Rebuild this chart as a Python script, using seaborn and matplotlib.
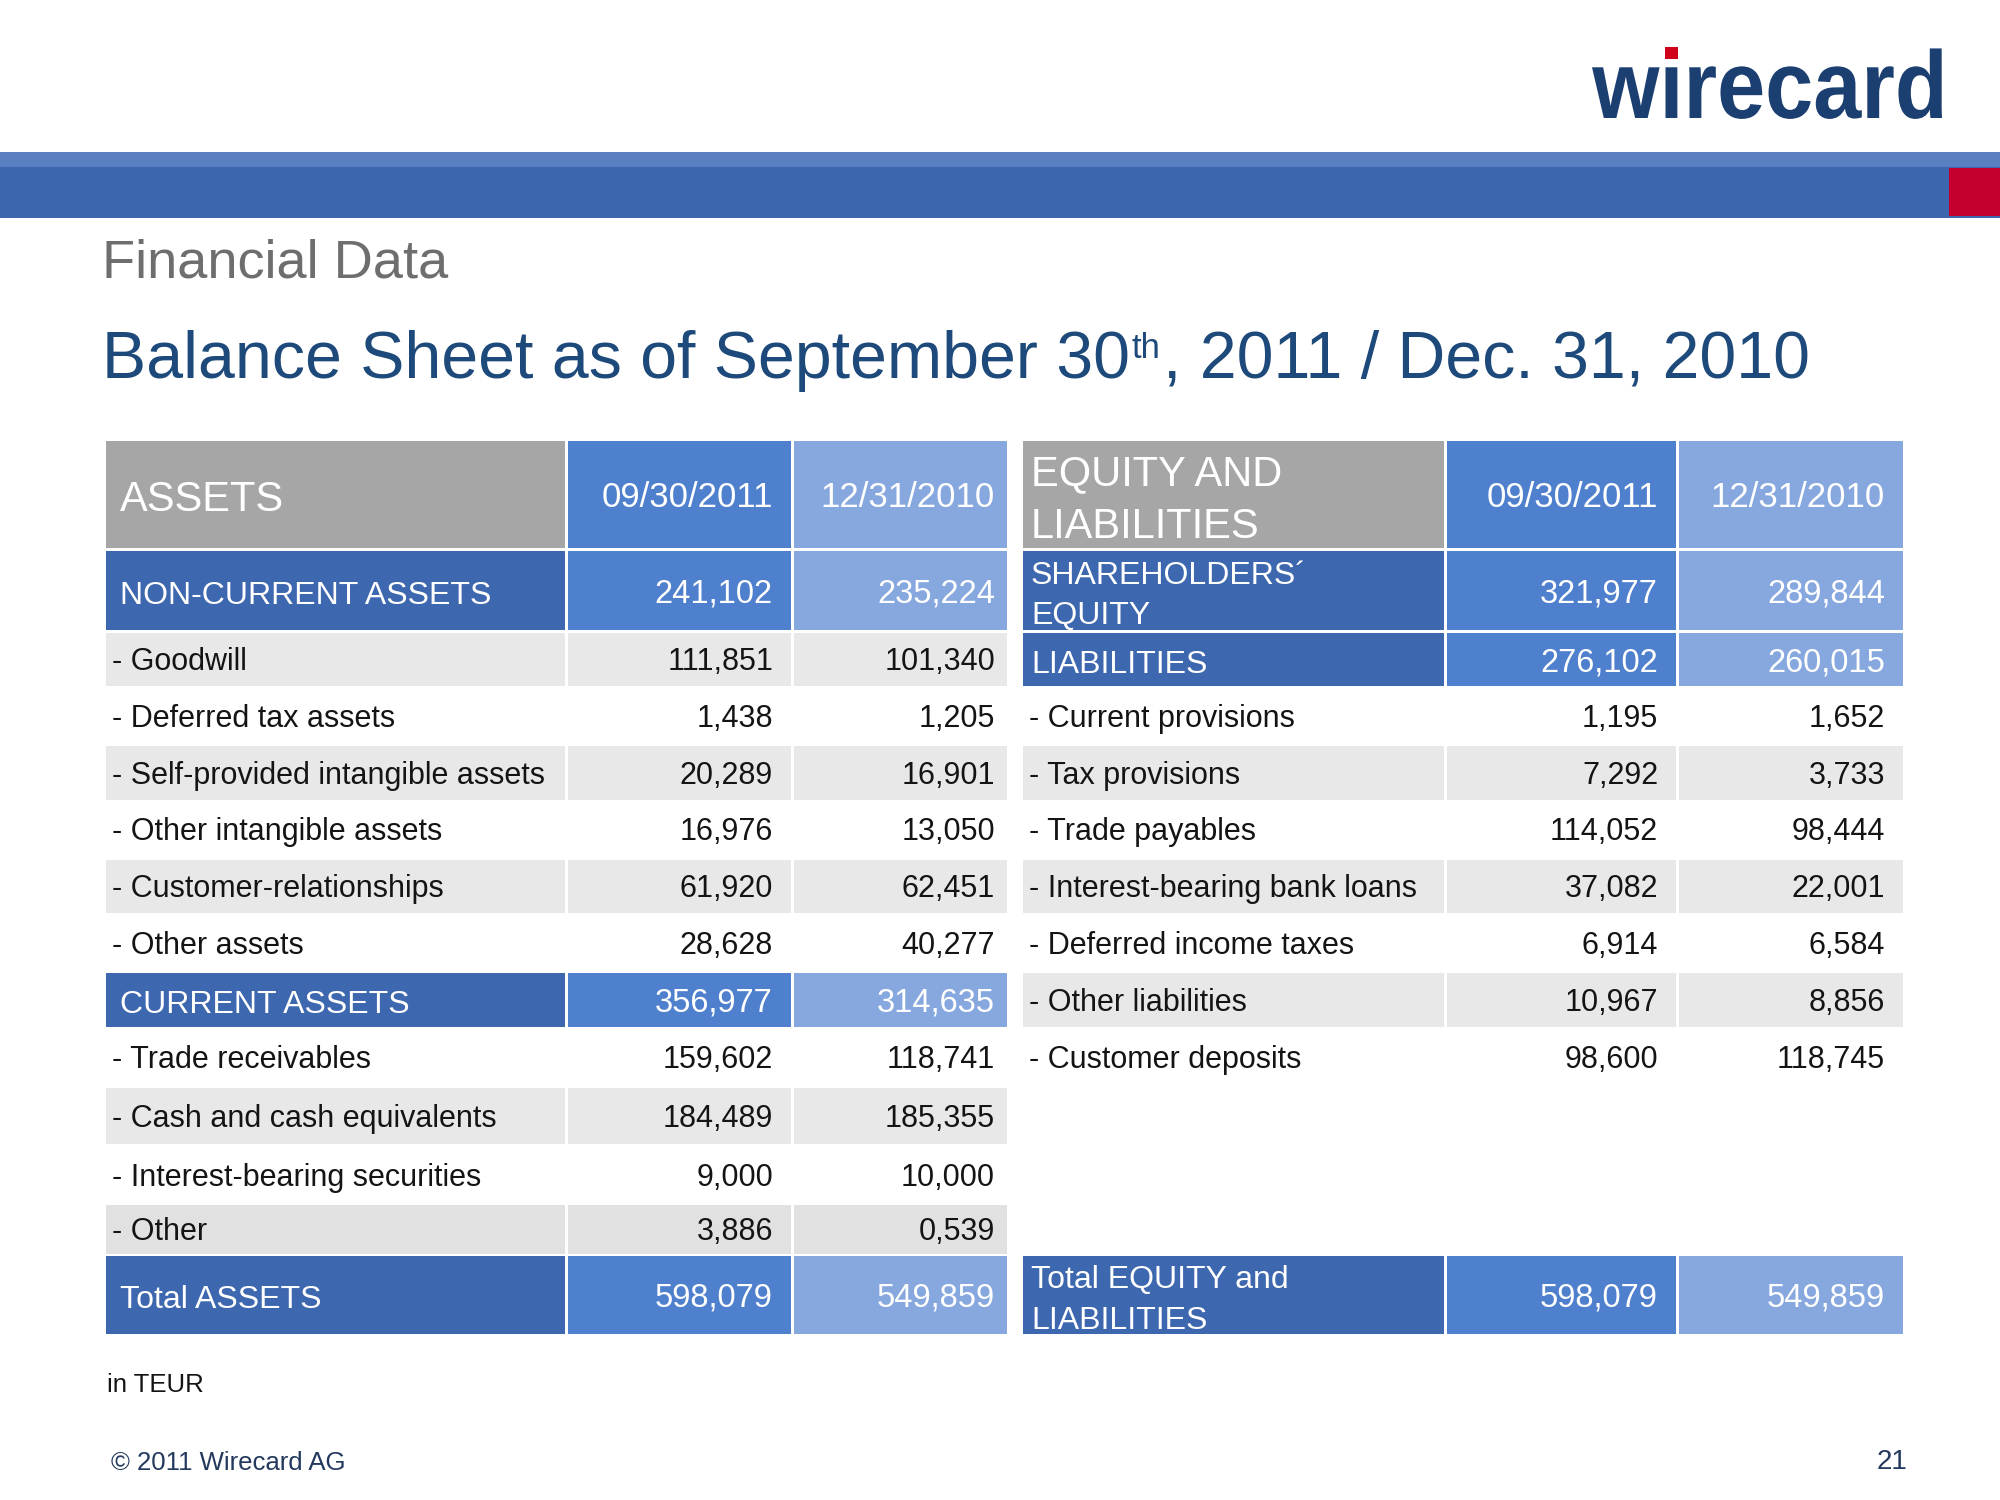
import matplotlib.pyplot as plt
from matplotlib.patches import Rectangle, PathPatch
from matplotlib.textpath import TextPath
from matplotlib.font_manager import FontProperties
from matplotlib.transforms import Affine2D
import seaborn as sns

# --- data (TEUR) ---
col_headers = ["09/30/2011", "12/31/2010"]

asset_labels = ["NON-CURRENT ASSETS", "- Goodwill", "- Deferred tax assets",
                "- Self-provided intangible assets", "- Other intangible assets",
                "- Customer-relationships", "- Other assets", "CURRENT ASSETS",
                "- Trade receivables", "- Cash and cash equivalents",
                "- Interest-bearing securities", "- Other", "Total ASSETS"]
assets_2011 = [241102, 111851, 1438, 20289, 16976, 61920, 28628, 356977,
               159602, 184489, 9000, 3886, 598079]
assets_2010 = [235224, 101340, 1205, 16901, 13050, 62451, 40277, 314635,
               118741, 185355, 10000, 539, 549859]
asset_kinds = ["s", "g", "w", "g", "w", "g", "w", "s", "w", "g", "w", "d", "s"]

equity_labels = ["SHAREHOLDERS\u00b4\nEQUITY", "LIABILITIES", "- Current provisions",
                 "- Tax provisions", "- Trade payables", "- Interest-bearing bank loans",
                 "- Deferred income taxes", "- Other liabilities", "- Customer deposits",
                 "Total EQUITY and\nLIABILITIES"]
equity_2011 = [321977, 276102, 1195, 7292, 114052, 37082, 6914, 10967, 98600, 598079]
equity_2010 = [289844, 260015, 1652, 3733, 98444, 22001, 6584, 8856, 118745, 549859]
equity_kinds = ["s", "s", "w", "g", "w", "g", "w", "g", "w", "s"]
equity_slots = [0, 1, 2, 3, 4, 5, 6, 7, 8, 12]

# --- layout (pixels) ---
row_top = [551, 633, 689, 746, 802, 860, 916, 973, 1029, 1088, 1147, 1205, 1256]
row_bot = [630, 686, 744, 800, 857, 913, 971, 1027, 1085, 1144, 1203, 1254, 1334]
head_top, head_bot = 441, 548
left_x = [104, 566, 792, 1008]
right_x = [1021, 1445, 1677, 1904]

HDR_GREY = "#a6a6a6"
DARK = "#3d67ae"
MID = "#4f80cd"
LIGHT = "#87a8df"
ROW_GREY = {"g": "#e8e8e8", "d": "#e1e1e1"}
TXT = "#141414"

sns.set_theme(style="white")
plt.rcParams["font.family"] = ["Liberation Sans", "DejaVu Sans"]

fig = plt.figure(figsize=(20, 15), dpi=100)
ax = fig.add_axes([0, 0, 1, 1])
ax.set_xlim(0, 2000)
ax.set_ylim(1500, 0)
ax.axis("off")


def fmt(v):
    return f"{v // 1000},{v % 1000:03d}"


def put(x, yc, s, size, color, ha="left", **kw):
    # yc = centre of the capital letters
    cap = 0.716 * size * 100 / 72
    return ax.text(x, yc + cap / 2, s, fontsize=size, color=color, ha=ha,
                   va="baseline", **kw)


def put_lines(x, yc, s, size, color):
    lines = s.split("\n")
    step = 1.27 * size * 100 / 72
    y0 = yc + 2 - step * (len(lines) - 1) / 2
    for i, ln in enumerate(lines):
        put(x, y0 + i * step, ln, size, color)


def cell(x0, x1, y0, y1, color):
    ax.add_patch(Rectangle((x0 + 1.5, y0), x1 - x0 - 3, y1 - y0, color=color, lw=0))


def draw_table(xs, title, labels, v11, v10, kinds, slots, pad, lab_off):
    # header
    cell(xs[0], xs[1], head_top, head_bot, HDR_GREY)
    cell(xs[1], xs[2], head_top, head_bot, MID)
    cell(xs[2], xs[3], head_top, head_bot, LIGHT)
    hc = (head_top + head_bot) / 2
    put_lines(xs[0] + lab_off, hc, title, 30, "white")
    put(xs[2] - pad[0], hc, col_headers[0], 25, "white", ha="right")
    put(xs[3] - pad[1], hc, col_headers[1], 25, "white", ha="right")
    for lab, a, b, k, s in zip(labels, v11, v10, kinds, slots):
        y0, y1 = row_top[s], row_bot[s]
        yc = (y0 + y1) / 2
        if k == "s":
            cell(xs[0], xs[1], y0, y1, DARK)
            cell(xs[1], xs[2], y0, y1, MID)
            cell(xs[2], xs[3], y0, y1, LIGHT)
            put_lines(xs[0] + lab_off, yc, lab, 23, "white")
            put(xs[2] - pad[0], yc, fmt(a), 23.5, "white", ha="right")
            put(xs[3] - pad[1], yc, fmt(b), 23.5, "white", ha="right")
        else:
            if k in ROW_GREY:
                for i in range(3):
                    cell(xs[i], xs[i + 1], y0, y1, ROW_GREY[k])
            put(xs[0] + 8, yc, lab, 22, TXT)
            put(xs[2] - pad[0], yc, fmt(a), 22, TXT, ha="right")
            put(xs[3] - pad[1], yc, fmt(b), 22, TXT, ha="right")


draw_table(left_x, "ASSETS", asset_labels, assets_2011, assets_2010, asset_kinds,
           list(range(len(asset_labels))), (19, 13), 16)
draw_table(right_x, "EQUITY AND\nLIABILITIES", equity_labels, equity_2011, equity_2010,
           equity_kinds, equity_slots, (19, 19), 10)

# --- top banner ---
ax.add_patch(Rectangle((0, 152), 2000, 16, color="#5b80c1", lw=0))
ax.add_patch(Rectangle((0, 167), 2000, 51, color="#3c66ad", lw=0))
ax.add_patch(Rectangle((1949, 168), 51, 48, color="#c4002f", lw=0))

# --- logo ---
logo_prop = FontProperties(family="Liberation Sans", weight="bold")
logo = TextPath((0, 0), "wirecard", size=96, prop=logo_prop)
wi = TextPath((0, 0), "wi", size=96, prop=logo_prop)
lw_ = logo.get_extents()
sx = 350 / lw_.width
tr = Affine2D().translate(-lw_.x0, 0).scale(sx, -1).translate(1592, 118)
ax.add_patch(PathPatch(logo, transform=tr + ax.transData, color="#1c3f72", lw=0))
dot = [(x, y) for x, y in wi.vertices if y > 58 and x > 58]
if dot:
    dx = [p[0] for p in dot]
    dy = [p[1] for p in dot]
    (x0, y0), (x1, y1) = tr.transform([(min(dx), max(dy)), (max(dx), min(dy))])
    ax.add_patch(Rectangle((x0 - 1, y0 - 1), x1 - x0 + 2, y1 - y0 + 2,
                           color="#d0021b", lw=0))

# --- titles ---
ax.text(102, 278, "Financial Data", fontsize=39, color="#6e6e6e", va="baseline")

fig.canvas.draw()
rend = fig.canvas.get_renderer()
t1 = ax.text(102, 378, "Balance Sheet as of September 30", fontsize=47.7,
             color="#1d4a7b", va="baseline")
x_end = t1.get_window_extent(rend).x1
t2 = ax.text(x_end + 2, 358, "th", fontsize=25, color="#1d4a7b", va="baseline")
x_end = t2.get_window_extent(rend).x1
ax.text(x_end + 2, 378, ", 2011 / Dec. 31, 2010", fontsize=47.7,
        color="#1d4a7b", va="baseline")

# --- footer ---
put(107, 1383, "in TEUR", 18.5, TXT)
put(111, 1461, "\u00a9 2011 Wirecard AG", 18.5, "#23395d")
put(1908, 1459, "21", 20, "#23395d", ha="right")

fig.savefig("out.png", dpi=100)
